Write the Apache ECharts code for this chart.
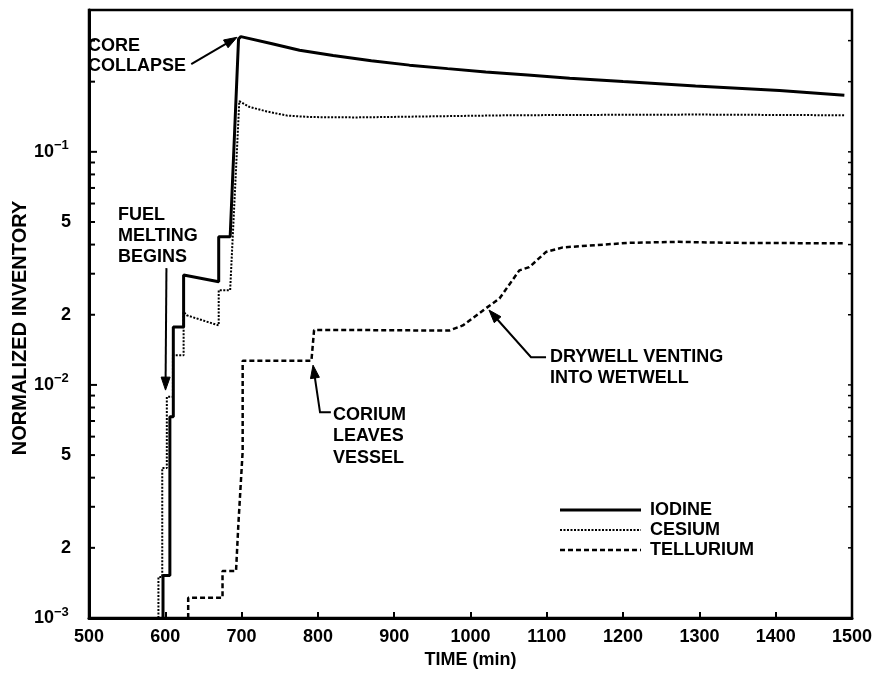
<!DOCTYPE html>
<html><head><meta charset="utf-8">
<script src="https://cdn.jsdelivr.net/npm/echarts@6/dist/echarts.min.js"></script>
<style>html,body{margin:0;padding:0;background:#fff}#c{width:879px;height:680px}</style>
</head><body><div id="c"></div>
<script>
// ---- data ----
const iodineTime  = [597, 597, 606, 606, 610.5, 610.5, 624, 624, 670, 670, 685, 696, 699, 740, 776, 820, 870, 920, 970, 1020, 1075, 1130, 1200, 1295, 1405, 1490];
const iodineValue = [0.001, 0.00152, 0.00152, 0.0073, 0.0073, 0.0177, 0.0177, 0.0296, 0.0277, 0.0432, 0.0432, 0.305, 0.312, 0.291, 0.273, 0.259, 0.246, 0.2355, 0.2275, 0.22, 0.2134, 0.2071, 0.2001, 0.1914, 0.1831, 0.1751];

const cesiumTime  = [591, 591, 596, 596, 602, 602, 610, 610, 624, 624, 628, 670, 670, 685, 697, 710, 733, 760, 790, 850, 950, 1050, 1150, 1300, 1490];
const cesiumValue = [0.001, 0.0015, 0.0015, 0.0044, 0.0044, 0.0089, 0.0089, 0.0134, 0.0134, 0.0206, 0.0199, 0.018, 0.0255, 0.0255, 0.165, 0.156, 0.149, 0.143, 0.141, 0.1405, 0.142, 0.1435, 0.144, 0.1445, 0.1435];

const telluriumTime  = [630, 630, 675, 675, 692.7, 695.7, 701.4, 701.4, 791.5, 795, 850, 972, 990, 1020, 1038, 1064, 1077, 1099, 1121, 1165, 1208, 1273, 1340, 1490];
const telluriumValue = [0.001, 0.00122, 0.00122, 0.00159, 0.00159, 0.0025, 0.0052, 0.0127, 0.0127, 0.0172, 0.0172, 0.0171, 0.018, 0.0213, 0.0235, 0.031, 0.032, 0.0372, 0.0389, 0.0398, 0.0407, 0.0411, 0.0407, 0.0405];

const seriesNames = ['IODINE', 'CESIUM', 'TELLURIUM'];

// axis ticks / labels
const yMajorTicks = [0.001, 0.01, 0.1];
const yMinorTicks = [0.002,0.003,0.004,0.005,0.006,0.007,0.008,0.009,
                     0.02,0.03,0.04,0.05,0.06,0.07,0.08,0.09,0.2,0.3];
const yLabelValues = [0.1, 0.05, 0.02, 0.01, 0.005, 0.002, 0.001];
const yLabelMain   = ['10', '5', '2', '10', '5', '2', '10'];
const yLabelExp    = ['\u22121', '', '', '\u22122', '', '', '\u22123'];

// annotation arrows (data coordinates: start at text, end at tip)
const arrowCoreCollapse = [[634, 0.238], [694, 0.31]];
const arrowFuelMelting  = [[601.5, 0.0317], [600.3, 0.0095]];
const arrowCorium       = [[817, 0.00763], [802.8, 0.00763], [793.6, 0.01216]];
const arrowDrywell      = [[1099, 0.01315], [1079.3, 0.01315], [1024.2, 0.02096]];
const arrows = [arrowCoreCollapse, arrowFuelMelting, arrowCorium, arrowDrywell];

// ---- chart ----
const FONT = '"Liberation Sans", Arial, sans-serif';
const zip = (t, v) => t.map((x, i) => [x, v[i]]);

const chart = echarts.init(document.getElementById('c'), null, {renderer: 'canvas'});

const textBlock = (txt, x, top, lh) => ({
  type: 'text', x: x, y: top, z: 100,
  style: {text: txt, fill: '#000', font: 'bold 18px ' + FONT, lineHeight: lh,
          textAlign: 'left', textVerticalAlign: 'top'}
});

// legend drawn as graphic (line sample + label)
const legendStyles = [
  {lineWidth: 3, lineDash: null},
  {lineWidth: 2, lineDash: [2, 1.5]},
  {lineWidth: 2.5, lineDash: [5, 3]}
];
const legendGraphics = [];
seriesNames.forEach((n, i) => {
  const y = 510 + i * 20;
  legendGraphics.push({type: 'line', z: 100, shape: {x1: 560, y1: y, x2: 641, y2: y},
    style: {stroke: '#000', lineWidth: legendStyles[i].lineWidth, lineDash: legendStyles[i].lineDash}});
  legendGraphics.push({type: 'text', x: 650, y: y, z: 100,
    style: {text: n, fill: '#000', font: 'bold 18px ' + FONT, textAlign: 'left', textVerticalAlign: 'middle'}});
});

const option = {
  animation: false,
  backgroundColor: '#fff',
  grid: {left: 89, right: 27, top: 10, bottom: 62, show: true, borderColor: '#000', borderWidth: 2.5},
  xAxis: {
    type: 'value', min: 500, max: 1500, interval: 100,
    name: 'TIME (min)', nameLocation: 'middle', nameGap: 31,
    nameTextStyle: {color: '#000', fontSize: 18, fontWeight: 'bold', fontFamily: FONT},
    axisLine: {show: true, onZero: false, lineStyle: {color: '#000', width: 3}},
    axisTick: {show: true, inside: true, length: 6, lineStyle: {color: '#000', width: 2}},
    axisLabel: {color: '#000', fontSize: 18, fontWeight: 'bold', fontFamily: FONT, margin: 10,
                formatter: v => String(v)},
    splitLine: {show: false}
  },
  yAxis: {
    type: 'log', logBase: 10, min: 0.001, max: 0.406,
    axisLine: {show: true, lineStyle: {color: '#000', width: 3}},
    axisTick: {show: false}, axisLabel: {show: false}, splitLine: {show: false}
  },
  graphic: [
    {type: 'text', x: 20, y: 328, rotation: Math.PI / 2, z: 100,
     style: {text: 'NORMALIZED INVENTORY', fill: '#000', font: 'bold 20px ' + FONT,
             textAlign: 'center', textVerticalAlign: 'middle'}},
    textBlock('CORE\nCOLLAPSE', 88, 36, 20),
    textBlock('FUEL\nMELTING\nBEGINS', 118, 204.5, 21),
    textBlock('CORIUM\nLEAVES\nVESSEL', 333, 404, 21.5),
    textBlock('DRYWELL VENTING\nINTO WETWELL', 550, 346.5, 21)
  ].concat(legendGraphics),
  series: [
    {name: 'IODINE', type: 'line', data: zip(iodineTime, iodineValue), symbol: 'none',
     lineStyle: {color: '#000', width: 3}, itemStyle: {color: '#000'}, z: 5},
    {name: 'CESIUM', type: 'line', data: zip(cesiumTime, cesiumValue), symbol: 'none',
     lineStyle: {color: '#000', width: 2, type: [2, 1.5]}, itemStyle: {color: '#000'}, z: 4},
    {name: 'TELLURIUM', type: 'line', data: zip(telluriumTime, telluriumValue), symbol: 'none',
     lineStyle: {color: '#000', width: 2.5, type: [5, 3]}, itemStyle: {color: '#000'}, z: 4},
    {
      type: 'custom', silent: true, z: 6, clip: false,
      data: arrows.map((a, i) => [a[a.length - 1][0], a[a.length - 1][1], i]),
      encode: {x: 0, y: 1},
      renderItem: function (params, api) {
        const pts = arrows[api.value(2)].map(c => api.coord(c));
        const n = pts.length;
        const tip = pts[n - 1], prev = pts[n - 2];
        const dx = tip[0] - prev[0], dy = tip[1] - prev[1];
        const L = Math.sqrt(dx * dx + dy * dy);
        const ux = dx / L, uy = dy / L;
        const hl = 13, hw = 4.5;
        const bx = tip[0] - ux * hl, by = tip[1] - uy * hl;
        const linePts = pts.slice(0, n - 1).concat([[bx + ux * 2, by + uy * 2]]);
        return {type: 'group', children: [
          {type: 'polyline', shape: {points: linePts}, style: {stroke: '#000', lineWidth: 2, fill: null}},
          {type: 'polygon', shape: {points: [tip, [bx - uy * hw, by + ux * hw], [bx + uy * hw, by - ux * hw]]},
           style: {fill: '#000', stroke: '#000', lineWidth: 1}}
        ]};
      }
    },
    {
      type: 'custom', silent: true, z: 7,
      data: yMajorTicks.map(v => [500, v, 1]).concat(yMinorTicks.map(v => [500, v, 0])),
      encode: {x: 0, y: 1},
      renderItem: function (params, api) {
        const v = api.value(1);
        const p = api.coord([500, v]);
        const pr = api.coord([1500, v]);
        const len = api.value(2) ? 8 : 6;
        return {type: 'group', children: [
          {type: 'line', shape: {x1: p[0], y1: p[1], x2: p[0] + len, y2: p[1]}, style: {stroke: '#000', lineWidth: 2}},
          {type: 'line', shape: {x1: pr[0], y1: pr[1], x2: pr[0] - 4, y2: pr[1]}, style: {stroke: '#000', lineWidth: 1.5}}
        ]};
      }
    },
    {
      type: 'custom', silent: true, z: 7, clip: false,
      data: yLabelValues.map((v, i) => [500, v, i]),
      encode: {x: 0, y: 1},
      renderItem: function (params, api) {
        const v = api.value(1);
        const idx = api.value(2);
        const p = api.coord([500, v]);
        const hasExp = yLabelExp[idx] !== '';
        const children = [{
          type: 'text', x: hasExp ? p[0] - 35 : p[0] - 18, y: p[1],
          style: {text: yLabelMain[idx], fill: '#000', font: 'bold 18px ' + FONT,
                  textAlign: 'right', textVerticalAlign: 'middle'}
        }];
        if (hasExp) {
          children.push({
            type: 'text', x: p[0] - 35, y: p[1] - 6,
            style: {text: yLabelExp[idx], fill: '#000', font: 'bold 13px ' + FONT,
                    textAlign: 'left', textVerticalAlign: 'middle'}
          });
        }
        return {type: 'group', children: children};
      }
    }
  ]
};
chart.setOption(option);
</script>
</body></html>
